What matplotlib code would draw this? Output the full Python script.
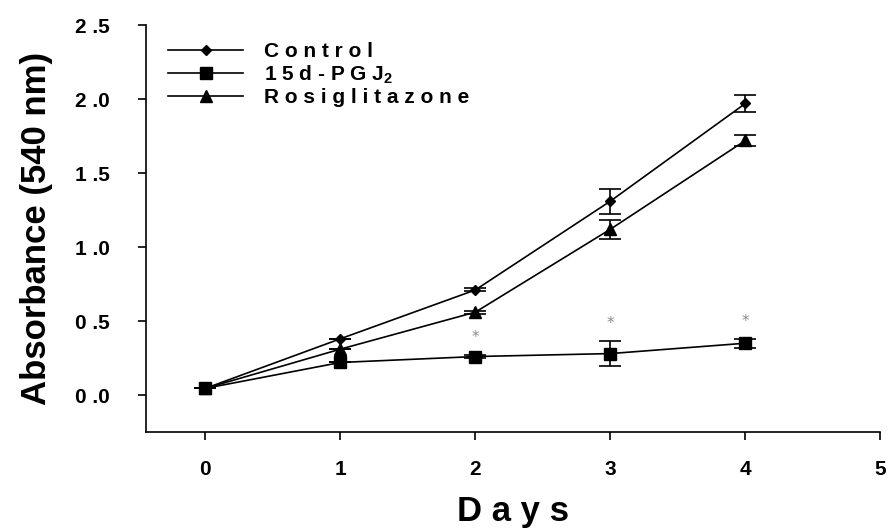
import matplotlib.pyplot as plt

plt.rcParams['font.family'] = ['Liberation Sans', 'DejaVu Sans']
plt.rcParams['mathtext.default'] = 'regular'

days = [0, 1, 2, 3, 4]

control = [0.045, 0.38, 0.71, 1.31, 1.97]
control_err = [0.0, 0.0, 0.01, 0.085, 0.06]

pgj2 = [0.045, 0.22, 0.26, 0.28, 0.35]
pgj2_err = [0.0, 0.0, 0.01, 0.085, 0.03]

rosi = [0.045, 0.31, 0.56, 1.12, 1.72]
rosi_err = [0.0, 0.0, 0.01, 0.065, 0.04]

# days where 15d-PGJ2 differs significantly from control
sig_days = [2, 3, 4]

labels = ['C o n t r o l', '1 5 d - P G J$_2$', 'R o s i g l i t a z o n e']

fig = plt.figure(figsize=(8.88, 5.31), dpi=100)
ax = fig.add_axes([0.1644, 0.1864, 0.827, 0.7665])

series = [(control, control_err, 'D', 5.5), (pgj2, pgj2_err, 's', 8), (rosi, rosi_err, '^', 8.5)]
handles = []
for (y, err, m, ms), lab in zip(series, labels):
    ax.errorbar(days, y, yerr=err, fmt='none', ecolor='k', elinewidth=1.2,
                capsize=8, capthick=1.2, zorder=2)
    h, = ax.plot(days, y, color='k', lw=1.2, marker=m, ms=ms, mfc='k', mec='k',
                 label=lab, zorder=3)
    handles.append(h)

for d in sig_days:
    i = days.index(d)
    ax.text(d, pgj2[i] + pgj2_err[i] + 0.12, '*', color='#8a8a8a', fontsize=11,
            ha='center', va='center', family='DejaVu Sans')

ax.set_xlim(-0.44, 5.0)
ax.set_ylim(-0.25, 2.5)
ax.set_xticks(range(6))
ax.set_yticks([0.0, 0.5, 1.0, 1.5, 2.0, 2.5])
ax.set_yticklabels(['0 .0', '0 .5', '1 .0', '1 .5', '2 .0', '2 .5'])
ax.tick_params(direction='out', length=6, width=1.2, labelsize=15)
ax.tick_params(axis='y', pad=20)
ax.tick_params(axis='x', pad=14)
for lab in ax.get_xticklabels() + ax.get_yticklabels():
    lab.set_fontweight('bold')

ax.spines['top'].set_visible(False)
ax.spines['right'].set_visible(False)
ax.spines['left'].set_linewidth(1.2)
ax.spines['bottom'].set_linewidth(1.2)

ax.set_ylabel('Absorbance (540 nm)', fontsize=25, fontweight='bold', labelpad=16)
ax.set_xlabel('D a y s', fontsize=25, fontweight='bold', labelpad=12)

ax.legend(handles=handles, loc='upper left', bbox_to_anchor=(0.005, 1.004),
          frameon=False, prop={'weight': 'bold', 'size': 15},
          handlelength=3.6, handletextpad=1.0, labelspacing=0.12,
          borderaxespad=0.5)

fig.savefig('out.png', dpi=100)
